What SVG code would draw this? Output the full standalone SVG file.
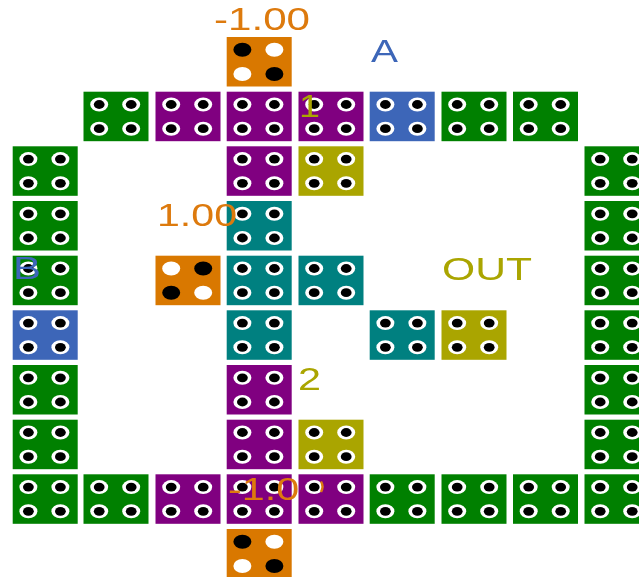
<svg xmlns="http://www.w3.org/2000/svg" xmlns:xlink="http://www.w3.org/1999/xlink" width="639" height="577" viewBox="0 0 639 577">
<style>
.t{width:65px;height:49.5px}
.g{fill:#008000}.p{fill:#800080}.c{fill:#008080}.o{fill:#aaa500}.b{fill:#3c66b8}.r{fill:#d97800}
text{font-family:"Liberation Sans",Arial,sans-serif;font-size:32px}
.lo{fill:#dd7a10}.lb{fill:#3c66b8}.ly{fill:#aaa500}
</style>
<defs>
<filter id="soft" filterUnits="userSpaceOnUse" x="-10" y="-10" width="659" height="597"><feGaussianBlur stdDeviation="0.6"/></filter>
<g id="holes">
<g fill="#fff"><ellipse cx="15.7" cy="12.8" rx="9" ry="7"/><ellipse cx="47.7" cy="12.8" rx="9" ry="7"/><ellipse cx="15.7" cy="37" rx="9" ry="7"/><ellipse cx="47.7" cy="37" rx="9" ry="7"/></g>
<g fill="#000"><ellipse cx="15.7" cy="12.8" rx="5.4" ry="4.4"/><ellipse cx="47.7" cy="12.8" rx="5.4" ry="4.4"/><ellipse cx="15.7" cy="37" rx="5.4" ry="4.4"/><ellipse cx="47.7" cy="37" rx="5.4" ry="4.4"/></g>
</g>
<g id="pinA"><ellipse cx="15.7" cy="12.8" rx="9" ry="7" fill="#000"/><ellipse cx="47.7" cy="12.8" rx="9" ry="7" fill="#fff"/><ellipse cx="15.7" cy="37" rx="9" ry="7" fill="#fff"/><ellipse cx="47.7" cy="37" rx="9" ry="7" fill="#000"/></g>
<g id="pinB"><ellipse cx="15.7" cy="12.8" rx="9" ry="7" fill="#fff"/><ellipse cx="47.7" cy="12.8" rx="9" ry="7" fill="#000"/><ellipse cx="15.7" cy="37" rx="9" ry="7" fill="#000"/><ellipse cx="47.7" cy="37" rx="9" ry="7" fill="#fff"/></g>
</defs>
<rect width="639" height="577" fill="#fff"/>
<g filter="url(#soft)">
<g id="connectors"/>
<g id="n0-3" transform="translate(226.7 37)"><rect class="t r"/><use href="#pinA"/></g>
<g id="n1-1" transform="translate(83.5 91.7)"><rect class="t g"/><use href="#holes"/></g>
<g id="n1-2" transform="translate(155.5 91.7)"><rect class="t p"/><use href="#holes"/></g>
<g id="n1-3" transform="translate(226.7 91.7)"><rect class="t p"/><use href="#holes"/></g>
<g id="n1-4" transform="translate(298.5 91.7)"><rect class="t p"/><use href="#holes"/></g>
<g id="n1-5" transform="translate(369.7 91.7)"><rect class="t b"/><use href="#holes"/></g>
<g id="n1-6" transform="translate(441.5 91.7)"><rect class="t g"/><use href="#holes"/></g>
<g id="n1-7" transform="translate(513 91.7)"><rect class="t g"/><use href="#holes"/></g>
<g id="n2-0" transform="translate(12.7 146.3)"><rect class="t g"/><use href="#holes"/></g>
<g id="n2-3" transform="translate(226.7 146.3)"><rect class="t p"/><use href="#holes"/></g>
<g id="n2-4" transform="translate(298.5 146.3)"><rect class="t o"/><use href="#holes"/></g>
<g id="n2-8" transform="translate(584.5 146.3)"><rect class="t g"/><use href="#holes"/></g>
<g id="n3-0" transform="translate(12.7 201)"><rect class="t g"/><use href="#holes"/></g>
<g id="n3-3" transform="translate(226.7 201)"><rect class="t c"/><use href="#holes"/></g>
<g id="n3-8" transform="translate(584.5 201)"><rect class="t g"/><use href="#holes"/></g>
<g id="n4-0" transform="translate(12.7 255.7)"><rect class="t g"/><use href="#holes"/></g>
<g id="n4-2" transform="translate(155.5 255.7)"><rect class="t r"/><use href="#pinB"/></g>
<g id="n4-3" transform="translate(226.7 255.7)"><rect class="t c"/><use href="#holes"/></g>
<g id="n4-4" transform="translate(298.5 255.7)"><rect class="t c"/><use href="#holes"/></g>
<g id="n4-8" transform="translate(584.5 255.7)"><rect class="t g"/><use href="#holes"/></g>
<g id="n5-0" transform="translate(12.7 310.3)"><rect class="t b"/><use href="#holes"/></g>
<g id="n5-3" transform="translate(226.7 310.3)"><rect class="t c"/><use href="#holes"/></g>
<g id="n5-5" transform="translate(369.7 310.3)"><rect class="t c"/><use href="#holes"/></g>
<g id="n5-6" transform="translate(441.5 310.3)"><rect class="t o"/><use href="#holes"/></g>
<g id="n5-8" transform="translate(584.5 310.3)"><rect class="t g"/><use href="#holes"/></g>
<g id="n6-0" transform="translate(12.7 365)"><rect class="t g"/><use href="#holes"/></g>
<g id="n6-3" transform="translate(226.7 365)"><rect class="t p"/><use href="#holes"/></g>
<g id="n6-8" transform="translate(584.5 365)"><rect class="t g"/><use href="#holes"/></g>
<g id="n7-0" transform="translate(12.7 419.7)"><rect class="t g"/><use href="#holes"/></g>
<g id="n7-3" transform="translate(226.7 419.7)"><rect class="t p"/><use href="#holes"/></g>
<g id="n7-4" transform="translate(298.5 419.7)"><rect class="t o"/><use href="#holes"/></g>
<g id="n7-8" transform="translate(584.5 419.7)"><rect class="t g"/><use href="#holes"/></g>
<g id="n8-0" transform="translate(12.7 474.3)"><rect class="t g"/><use href="#holes"/></g>
<g id="n8-1" transform="translate(83.5 474.3)"><rect class="t g"/><use href="#holes"/></g>
<g id="n8-2" transform="translate(155.5 474.3)"><rect class="t p"/><use href="#holes"/></g>
<g id="n8-3" transform="translate(226.7 474.3)"><rect class="t p"/><use href="#holes"/></g>
<text class="lo" x="228" y="500" textLength="94" lengthAdjust="spacingAndGlyphs">-1.00</text>
<g id="n8-4" transform="translate(298.5 474.3)"><rect class="t p"/><use href="#holes"/></g>
<path d="M321 481.5Q324 486.5 321 492" fill="none" stroke="#dd7a10" stroke-width="2.4"/>
<g id="n8-5" transform="translate(369.7 474.3)"><rect class="t g"/><use href="#holes"/></g>
<g id="n8-6" transform="translate(441.5 474.3)"><rect class="t g"/><use href="#holes"/></g>
<g id="n8-7" transform="translate(513 474.3)"><rect class="t g"/><use href="#holes"/></g>
<g id="n8-8" transform="translate(584.5 474.3)"><rect class="t g"/><use href="#holes"/></g>
<g id="n9-3" transform="translate(226.7 529)"><rect class="t r"/><use href="#pinA"/></g>
<g id="labels">
<text class="lo" x="214" y="30" textLength="96" lengthAdjust="spacingAndGlyphs">-1.00</text>
<text class="lb" x="371" y="61.5" textLength="27" lengthAdjust="spacingAndGlyphs">A</text>
<text class="ly" x="299" y="117" textLength="21" lengthAdjust="spacingAndGlyphs">1</text>
<text class="lo" x="157" y="226" textLength="80" lengthAdjust="spacingAndGlyphs">1.00</text>
<text class="lb" x="13" y="279" textLength="28" lengthAdjust="spacingAndGlyphs">B</text>
<text class="ly" x="442" y="280" textLength="90" lengthAdjust="spacingAndGlyphs">OUT</text>
<text class="ly" x="298" y="390" textLength="23" lengthAdjust="spacingAndGlyphs">2</text>
</g>
</g>
</svg>
